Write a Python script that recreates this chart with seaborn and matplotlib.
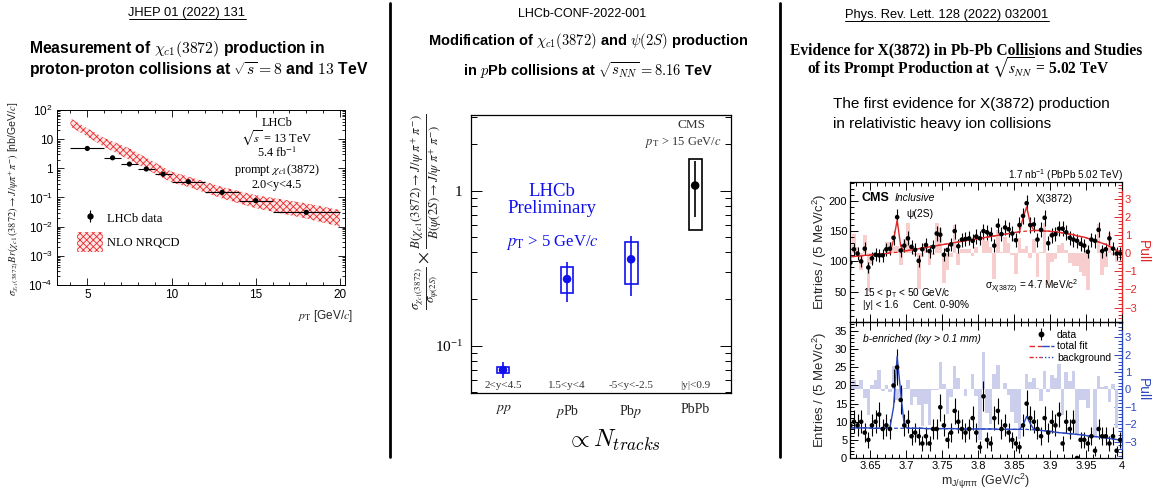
import numpy as np
import matplotlib
matplotlib.use("Agg")
import matplotlib.pyplot as plt
import seaborn as sns
from matplotlib.lines import Line2D
from matplotlib.patches import Patch
from matplotlib.legend_handler import HandlerTuple
from matplotlib.ticker import (MultipleLocator, FixedLocator, FuncFormatter,
                               LogLocator, NullFormatter)

sns.set_theme(style="ticks")
SANS = "Liberation Sans"
SERIF = "Liberation Serif"
plt.rcParams["font.family"] = [SANS, "DejaVu Sans"]
plt.rcParams["hatch.linewidth"] = 0.6
plt.rcParams["text.color"] = "black"
plt.rcParams["axes.edgecolor"] = "black"
plt.rcParams["xtick.color"] = "black"
plt.rcParams["ytick.color"] = "black"
plt.rcParams["xtick.direction"] = "in"
plt.rcParams["ytick.direction"] = "in"

W, H = 1153, 492

# ---- left: LHCb pp cross-section vs pT
pt_centre = [5, 6.5, 7.5, 8.5, 9.5, 11, 13, 15, 18]
pt_lo = [4, 6, 7, 8, 9, 10, 12, 14, 16]
pt_hi = [6, 7, 8, 9, 10, 12, 14, 16, 20]
xsec = [4.8, 2.3, 1.4, 0.95, 0.63, 0.35, 0.15, 0.078, 0.031]
nrqcd_pt = [4, 5, 6, 7.5, 9, 10, 11, 13, 15, 18, 20]
nrqcd_hi = [52, 23.5, 11, 4.8, 1.6, 0.77, 0.52, 0.23, 0.12, 0.063, 0.037]
nrqcd_lo = [27, 12.2, 5.5, 1.94, 0.66, 0.33, 0.23, 0.093, 0.043, 0.019, 0.010]

# ---- middle: ratio per collision system
systems = ["pp", "pPb", "Pbp", "PbPb"]
system_labels = [r"$pp$", r"$p$Pb", r"Pb$p$", "PbPb"]
rapidity = ["2<y<4.5", "1.5<y<4", "-5<y<-2.5", "|y|<0.9"]
ratio = [0.0697, 0.269, 0.361, 1.08]
stat_lo = [0.062, 0.192, 0.21, 0.68]
stat_hi = [0.078, 0.345, 0.51, 1.55]
syst_lo = [0.0662, 0.22, 0.25, 0.557]
syst_hi = [0.0733, 0.321, 0.469, 1.6]
system_colors = ["#1010ee", "#1010ee", "#1010ee", "black"]

# ---- right: CMS mass spectra (5 MeV bins starting at 3.6225)
mass_first, bin_w = 3.6225, 0.005
top_counts = [98, 120, 113, 100, 121, 90, 105, 111, 110, 110,
              120, 121, 139, 173, 118, 126, 138, 124, 119, 101,
              120, 127, 117, 124, 146, 144, 111, 119, 128, 150,
              125, 136, 137, 138, 134, 141, 138, 150, 148, 145,
              126, 159, 145, 156, 153, 146, 135, 160, 175, 196,
              160, 161, 136, 152, 172, 130, 143, 145, 154, 154,
              148, 139, 136, 134, 129, 126, 116, 136, 134, 152,
              117, 120, 138, 121, 113, 113]
top_fit = [108, 108, 109, 109, 110, 110, 111, 111, 112, 112,
           113, 114, 135, 168, 125, 117, 118, 119, 120, 121,
           122, 123, 124, 125, 126, 127, 128, 129, 130, 131,
           132, 133, 134, 135, 136, 137, 138, 139, 140, 141,
           142, 143, 144, 145, 146, 147, 148, 149, 172, 190,
           163, 151, 151, 151, 150, 150, 149, 149, 148, 147,
           146, 145, 144, 142, 141, 140, 138, 136, 134, 132,
           130, 128, 125, 122, 118, 114]
top_bkg = [108, 108, 109, 109, 110, 110, 111, 111, 112, 112,
           113, 114, 114.5, 115, 116, 117, 118, 119, 120, 121,
           122, 123, 124, 125, 126, 127, 128, 129, 130, 131,
           132, 133, 134, 135, 136, 137, 138, 139, 140, 141,
           142, 143, 144, 145, 146, 147, 148, 149, 149.5, 150,
           150.5, 151, 151, 151, 150, 150, 149, 149, 148, 147,
           146, 145, 144, 142, 141, 140, 138, 136, 134, 132,
           130, 128, 125, 122, 118, 114]
bot_counts = [9, 10, 9, 10, 7, 5, 9, 10, 12, 8,
              9, 8, 20, 25, 16, 9, 10, 6, 7, 6,
              4, 6, 4, 8, 8, 14, 9, 5, 7, 13,
              10, 8, 7, 8, 11, 7, 3, 17, 5, 4,
              11, 13, 8, 9, 7, 5, 4, 3, 9, 15,
              11, 10, 8, 6, 11, 7, 10, 9, 12, 4,
              10, 8, 10, 0, 5, 5, 4, 6, 2, 8,
              6, 6, 4, 6, 2, 5]
bot_fit = [8.3, 8.3, 8.3, 8.3, 8.3, 8.3, 8.2, 8.2, 8.2, 8.2,
           8.2, 8.4, 14.0, 28.0, 18.0, 8.8, 8.2, 8.2, 8.2, 8.2,
           8.2, 8.1, 8.1, 8.1, 8.1, 8.1, 8.1, 8.1, 8.1, 8.1,
           8.0, 8.0, 8.0, 8.0, 8.0, 8.0, 8.0, 8.0, 8.0, 8.0,
           8.0, 7.9, 7.9, 7.9, 7.9, 7.9, 7.9, 7.9, 9.0, 11.5,
           9.5, 7.9, 7.7, 7.6, 7.5, 7.4, 7.3, 7.1, 7.0, 6.9,
           6.8, 6.7, 6.6, 6.5, 6.4, 6.3, 6.1, 6.0, 5.9, 5.8,
           5.6, 5.5, 5.4, 5.2, 5.1, 4.9]
bot_bkg = [8.3, 8.3, 8.3, 8.3, 8.3, 8.3, 8.2, 8.2, 8.2, 8.2,
           8.2, 8.2, 8.2, 8.2, 8.2, 8.2, 8.2, 8.2, 8.2, 8.2,
           8.2, 8.1, 8.1, 8.1, 8.1, 8.1, 8.1, 8.1, 8.1, 8.1,
           8.0, 8.0, 8.0, 8.0, 8.0, 8.0, 8.0, 8.0, 8.0, 8.0,
           8.0, 7.9, 7.9, 7.9, 7.9, 7.9, 7.9, 7.9, 7.9, 7.9,
           7.8, 7.8, 7.7, 7.6, 7.5, 7.4, 7.3, 7.1, 7.0, 6.9,
           6.8, 6.7, 6.6, 6.5, 6.4, 6.3, 6.1, 6.0, 5.9, 5.8,
           5.6, 5.5, 5.4, 5.2, 5.1, 4.9]

RED = "#e02a2a"
BLUE = "#2c48c0"

fig = plt.figure(figsize=(W / 100, H / 100), dpi=100)


def add_px_axes(x0, y0, x1, y1):
    return fig.add_axes([x0 / W, 1 - y1 / H, (x1 - x0) / W, (y1 - y0) / H])


def put(x, y, s, **kw):
    kw.setdefault("va", "center")
    return fig.text(x / W, 1 - y / H, s, **kw)


def root_log(v, _):
    n = int(round(np.log10(v)))
    if n == 0:
        return "1"
    if n == 1:
        return "10"
    return r"$\mathregular{10^{%d}}$" % n


# ================= left panel =================
ax1 = add_px_axes(57, 110, 345, 285)
ax1.set_yscale("log")
ax1.fill_between(nrqcd_pt, nrqcd_lo, nrqcd_hi, facecolor="#fde6e6",
                 edgecolor="#e8292b", hatch="xxxxx", linewidth=0, zorder=1)
xerr = [np.subtract(pt_centre, pt_lo), np.subtract(pt_hi, pt_centre)]
ax1.errorbar(pt_centre, xsec, xerr=xerr, fmt="none", ecolor="black",
             elinewidth=0.8, zorder=2)
sns.scatterplot(x=pt_centre, y=xsec, ax=ax1, color="black", s=14,
                edgecolor="none", zorder=3)
ax1.set_xlim(3.2, 20.3)
ax1.set_ylim(1e-4, 1e2)
ax1.xaxis.set_major_locator(MultipleLocator(5))
ax1.xaxis.set_minor_locator(MultipleLocator(1))
ax1.yaxis.set_major_locator(LogLocator(10, numticks=10))
ax1.yaxis.set_minor_locator(LogLocator(10, subs=np.arange(2, 10), numticks=10))
ax1.yaxis.set_minor_formatter(NullFormatter())
ax1.yaxis.set_major_formatter(FuncFormatter(root_log))
ax1.tick_params(which="both", top=True, right=True, labelsize=8.5, width=0.6, pad=3)
ax1.tick_params(which="major", length=5)
ax1.tick_params(which="minor", length=2.5)
for sp in ax1.spines.values():
    sp.set_linewidth(0.7)
ax1.set_ylabel(r"$\sigma_{\chi_{c1}(3872)}Br(\chi_{c1}(3872)\to J/\psi\pi^{+}\pi^{-})$ [nb/GeV/$c$]",
               fontsize=7.6, math_fontfamily="stix")
ax1.yaxis.set_label_coords(-0.125, 0.49)
ax1.set_xlabel(r"$p_{\mathrm{T}}$ [GeV/$c$]", fontsize=8.5, loc="right",
               math_fontfamily="stix")
ax1.xaxis.set_label_coords(1.03, -0.13)
for i, s in enumerate(["LHCb", r"$\sqrt{s}$ = 13 TeV", r"5.4 fb$^{-1}$",
                       r"prompt $\chi_{c1}$(3872)", "2.0<y<4.5"]):
    ax1.text(0.764, [0.926, 0.84, 0.754, 0.657, 0.571][i], s, transform=ax1.transAxes,
             ha="center", va="center", family=SERIF, fontsize=8.8,
             math_fontfamily="stix")
h_data = (Line2D([], [], ls="none", marker="|", ms=9, mew=0.8, color="black"),
          Line2D([], [], ls="none", marker="o", ms=3.5, color="black"))
h_band = Patch(facecolor="#fde6e6", edgecolor="#e8292b", hatch="xxxxx", linewidth=0)
ax1.legend([h_data, h_band], ["LHCb data", "NLO NRQCD"],
           handler_map={tuple: HandlerTuple(ndivide=1)}, loc="upper left",
           bbox_to_anchor=(0.03, 0.5), frameon=False,
           prop={"family": SERIF, "size": 9}, handlelength=2.1, handleheight=2.0,
           labelspacing=0.35, handletextpad=0.3)

# ================= middle panel =================
ax2 = add_px_axes(471, 115, 731, 393)
ax2.set_yscale("log")
pos = np.arange(len(systems))
for x, v, slo, shi, tlo, thi, c in zip(pos, ratio, syst_lo, syst_hi, stat_lo,
                                       stat_hi, system_colors):
    ax2.bar(x, shi - slo, bottom=slo, width=0.2, fill=False, edgecolor=c,
            linewidth=1.2, zorder=2)
    ax2.errorbar(x, v, yerr=[[v - tlo], [thi - v]], fmt="none", ecolor=c,
                 elinewidth=1.2, zorder=2)
sns.scatterplot(x=pos, y=ratio, hue=systems, palette=dict(zip(systems, system_colors)),
                legend=False, s=38, edgecolor="none", ax=ax2, zorder=3)
ax2.set_xlim(-0.5, 3.56)
ax2.set_ylim(0.0495, 3.08)
ax2.set_xticks(pos)
ax2.set_xticklabels(system_labels)
for lbl in ax2.get_xticklabels():
    lbl.set_fontfamily(SERIF)
    lbl.set_math_fontfamily("stix")
ax2.tick_params(axis="x", length=0, pad=7, labelsize=10, colors="#222222")
ax2.yaxis.set_major_locator(FixedLocator([0.1, 1]))
ax2.yaxis.set_major_formatter(FuncFormatter(lambda v, _: "1" if v > 0.5 else r"$\mathregular{10^{-1}}$"))
ax2.yaxis.set_minor_locator(LogLocator(10, subs=np.arange(2, 10), numticks=10))
ax2.yaxis.set_minor_formatter(NullFormatter())
ax2.tick_params(axis="y", which="both", left=True, right=True, labelsize=11, width=0.7, pad=6)
ax2.tick_params(axis="y", which="major", length=8)
ax2.tick_params(axis="y", which="minor", length=4)
for lbl in ax2.get_yticklabels():
    lbl.set_fontfamily(SERIF)
for sp in ax2.spines.values():
    sp.set_linewidth(0.9)
ax2.set_ylabel(r"$\frac{\sigma_{\chi_{c1}(3872)}}{\sigma_{\psi(2S)}}\times"
               r"\frac{B(\chi_{c1}(3872)\to J/\psi\ \pi^{+}\ \pi^{-})}{B(\psi(2S)\to J/\psi\ \pi^{+}\ \pi^{-})}$",
               fontsize=13.3, math_fontfamily="stix", color="#222222")
ax2.yaxis.set_label_coords(-0.1, 0.65)
for x, r in zip(pos, rapidity):
    ax2.text(x, 0.027, r, transform=ax2.get_xaxis_transform(), ha="center",
             va="center", family=SERIF, fontsize=8, color="#333333")
put(552, 200, "LHCb\nPreliminary", ha="center", family=SERIF, fontsize=13.5,
    color="#1010ee", linespacing=1.05)
put(552, 242, r"$p_{\mathrm{T}}$ > 5 GeV/$c$", ha="center", family=SERIF, fontsize=12,
    color="#1010ee", math_fontfamily="stix")
put(692, 125, "CMS", ha="center", family=SERIF, fontsize=9.5, color="#333333")
put(683, 143, r"$p_{\mathrm{T}}$ > 15 GeV/$c$", ha="center", family=SERIF, fontsize=9,
    color="#333333", math_fontfamily="stix")
put(614, 440, r"$\propto N_{tracks}$", ha="center", fontsize=17.5, math_fontfamily="cm")

# ================= right panel =================
mass = mass_first + bin_w * np.arange(len(top_counts))
top_counts = np.array(top_counts, float)
bot_counts = np.array(bot_counts, float)


def pulls_of(counts, fit):
    # residual divided by the bin's error bar (fit error for empty bins)
    fit = np.asarray(fit, float)
    err = np.where(counts > 0, np.sqrt(counts), np.sqrt(fit))
    return (counts - fit) / err


def mass_panel(box, counts, fit, bkg, ylim, pull_lim, col, bar_col):
    ax = add_px_axes(*box)
    axp = ax.twinx()
    axp.bar(mass, pulls_of(counts, fit), width=bin_w, color=bar_col, linewidth=0)
    ax.set_zorder(axp.get_zorder() + 1)
    ax.patch.set_visible(False)
    ax.errorbar(mass, counts, yerr=np.sqrt(counts), fmt="none", ecolor="black",
                elinewidth=0.8, zorder=2)
    ax.plot(mass, bkg, color=col, ls=(0, (3, 2)), lw=0.9, zorder=2)
    sns.lineplot(x=mass, y=fit, ax=ax, color=col, lw=1.0, zorder=2)
    sns.scatterplot(x=mass, y=counts, ax=ax, color="black", s=11, edgecolor="none", zorder=3)
    ax.set_xlim(3.622, 4.0)
    ax.set_ylim(*ylim)
    axp.set_ylim(*pull_lim)
    ax.xaxis.set_major_locator(MultipleLocator(0.05))
    ax.xaxis.set_minor_locator(MultipleLocator(0.01))
    ax.tick_params(which="both", top=True, bottom=True, left=True, right=False,
                   labelsize=8, width=0.7, pad=2)
    ax.tick_params(which="major", length=6)
    ax.tick_params(which="minor", length=3)
    ax.spines["right"].set_visible(False)
    for sp in ["left", "top", "bottom"]:
        axp.spines[sp].set_visible(False)
        ax.spines[sp].set_linewidth(0.9)
    axp.spines["right"].set_color(col)
    axp.spines["right"].set_linewidth(1.0)
    axp.yaxis.set_major_locator(FixedLocator([-3, -2, -1, 0, 1, 2, 3]))
    axp.yaxis.set_minor_locator(MultipleLocator(0.2))
    axp.yaxis.set_major_formatter(FuncFormatter(lambda v, _: f"{int(round(v))}".replace("-", "\u2212")))
    axp.tick_params(which="both", colors=col, labelsize=8, width=0.7, pad=2)
    axp.tick_params(which="major", length=6)
    axp.tick_params(which="minor", length=3)
    ax.set_ylabel(r"Entries / (5 MeV/$\mathregular{c^{2}}$)", fontsize=9.5)
    ax.yaxis.set_label_coords(-0.078, 0.5)
    axp.set_ylabel("Pull", fontsize=10, color=col, rotation=270, va="center", ha="center")
    axp.yaxis.set_label_coords(1.078, 0.5)
    return ax, axp


ax3, ax3p = mass_panel((850, 182, 1122, 322), top_counts, top_fit, top_bkg,
                       (0, 231), (-3.8, 3.95), RED, "#f7cdcd")
ax3.yaxis.set_major_locator(FixedLocator([50, 100, 150, 200]))
ax3.yaxis.set_minor_locator(MultipleLocator(10))
ax3.tick_params(labelbottom=False)

ax4, ax4p = mass_panel((850, 322, 1122, 458), bot_counts, bot_fit, bot_bkg,
                       (0, 37.5), (-3.94, 3.88), BLUE, "#cbcfec")
ax4.yaxis.set_major_locator(MultipleLocator(5))
ax4.yaxis.set_minor_locator(MultipleLocator(1))
ax4.xaxis.set_major_formatter(FuncFormatter(lambda v, _: f"{v:g}"))
ax4.set_xlabel(r"$\mathregular{m_{J/\psi\pi\pi}}$ (GeV/$\mathregular{c^{2}}$)", fontsize=9)
ax4.xaxis.set_label_coords(0.5, -0.1)

h_d = (Line2D([], [], ls="none", marker="|", ms=8, mew=0.8, color="black"),
       Line2D([], [], ls="none", marker="o", ms=3.2, color="black"))
h_fit = (Line2D([], [], color=RED, ls=(0, (4, 2)), lw=1.0),
         Line2D([], [], color=BLUE, ls=(0, (6, 1)), lw=1.0))
h_bkg = (Line2D([], [], color=RED, ls=(0, (3, 1.5, 1, 1.5)), lw=1.0),
         Line2D([], [], color=BLUE, ls=(0, (1, 1.5)), lw=1.0))
ax4.legend([h_d, h_fit, h_bkg], ["data", "total fit", "background"],
           handler_map={h_d: HandlerTuple(ndivide=1),
                        h_fit: HandlerTuple(ndivide=None, pad=0),
                        h_bkg: HandlerTuple(ndivide=None, pad=0)},
           loc="upper left", bbox_to_anchor=(0.635, 0.99), frameon=False, fontsize=7.5,
           handlelength=2.4, handletextpad=0.3, labelspacing=0.15, borderaxespad=0.2)

put(1123, 175, r"1.7 nb$^{\mathregular{-1}}$ (PbPb 5.02 TeV)", ha="right", fontsize=7.2)
put(862, 198, "CMS", fontweight="bold", fontsize=9)
put(895, 198, "Inclusive", style="italic", fontsize=7.5)
put(906, 214, "ψ(2S)", fontsize=7.5)
put(1036, 199, "X(3872)", fontsize=7.5)
put(863, 293, r"15 < p$_{\mathregular{T}}$ < 50 GeV/c", fontsize=7.2)
put(863, 305, "|y| < 1.6", fontsize=7.2)
put(913, 305, "Cent. 0-90%", fontsize=7.2)
put(985, 287, r"σ$_{\mathregular{X(3872)}}$ = 4.7 MeV/c$^{\mathregular{2}}$", fontsize=7.2)
put(863, 339, "b-enriched (lxy > 0.1 mm)", style="italic", fontsize=7.5)

# ================= headers and titles =================
headers = [put(187, 13, "JHEP 01 (2022) 131", ha="center", fontsize=9.3),
           put(947, 15, "Phys. Rev. Lett. 128 (2022) 032001", ha="center", fontsize=9.3)]
put(582, 14, "LHCb-CONF-2022-001", ha="center", fontsize=9)

put(29, 49, r"Measurement of $\chi_{c1}(3872)$ production in", fontweight="bold",
    fontsize=11.3, math_fontfamily="cm")
put(29, 70, r"proton-proton collisions at $\sqrt{s} = 8$ and $13$ TeV", fontweight="bold",
    fontsize=11.3, math_fontfamily="cm")
put(588, 41, r"Modification of $\chi_{c1}(3872)$ and $\psi(2S)$ production", ha="center",
    fontweight="bold", fontsize=10.5, math_fontfamily="cm")
put(588, 71, r"in $p$Pb collisions at $\sqrt{s_{NN}} = 8.16$ TeV", ha="center",
    fontweight="bold", fontsize=10.5, math_fontfamily="cm")
put(966, 50, "Evidence for X(3872) in Pb-Pb Collisions and Studies", ha="center",
    family=SERIF, fontweight="bold", fontsize=11.2)
put(958, 68, r"of its Prompt Production at $\sqrt{s_{NN}}$ = 5.02 TeV", ha="center",
    family=SERIF, fontweight="bold", fontsize=11.2, math_fontfamily="stix")
put(833, 104, "The first evidence for X(3872) production", fontsize=11)
put(833, 124, "in relativistic heavy ion collisions", fontsize=11)

# separators
for xs in (390, 780):
    fig.add_artist(Line2D([xs / W, xs / W], [1 - 3 / H, 1 - 457 / H], color="black", lw=2))

# underline the journal references
fig.canvas.draw()
for t in headers:
    bb = t.get_window_extent().transformed(fig.transFigure.inverted())
    fig.add_artist(Line2D([bb.x0, bb.x1], [bb.y0 - 0.5 / H] * 2, color="black", lw=0.7))

fig.savefig("out.png", dpi=100)
